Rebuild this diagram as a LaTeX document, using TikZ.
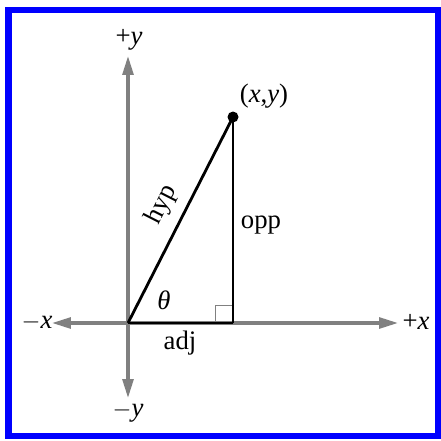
\documentclass[tikz,border=0pt]{standalone}
\usepackage{fontspec}
\setmainfont{Liberation Serif}
\usepackage{xcolor}
\usepackage{tikz}
\usetikzlibrary{arrows.meta}

\definecolor{framblue}{RGB}{0,0,255}
\definecolor{axisgray}{RGB}{128,128,128}

\begin{document}
\begin{tikzpicture}[
  x=0.025cm, y=-0.025cm,
  axis/.style={draw=axisgray, line width=2.2pt,
               -{Triangle[length=0.47cm, width=0.27cm]}},
  side/.style={draw=black, line width=2pt},
  lbl/.style={inner sep=0.5pt, font=\fontsize{19}{21}\selectfont}
]
\useasboundingbox (0,0) rectangle (441,441);
\draw[framblue, line width=4.6pt] (8.5,10) rectangle (438,436);

% points of the triangle
\coordinate (orig) at (128,323);
\coordinate (foot) at (233,323);
\coordinate (tip)  at (233,117);

% axis ends
\coordinate (xneg) at (52,323);
\coordinate (xpos) at (398,323);
\coordinate (ypos) at (128,56);
\coordinate (yneg) at (128,398);

\draw[axis] (orig) -- (xneg);
\draw[axis] (orig) -- (xpos);
\draw[axis] (orig) -- (ypos);
\draw[axis] (orig) -- (yneg);

% right angle mark
\draw[axisgray, line width=0.6pt] (215,323) |- (233,305);

\draw[side] (orig) -- (foot);
\draw[side] (orig) -- (tip);
\draw[draw=black, line width=1.4pt] (foot) -- (tip);
\fill (tip) circle (5.5);

\node[lbl] (lpy) at (129,40) {+\textit{y}};
\node[lbl] (lny) at (128,412) {$-$\textit{y}};
\node[lbl] (lnx) at (37,322) {$-$\textit{x}};
\node[lbl] (lpx) at (416,322) {+\textit{x}};
\node[lbl] (lpt) at (264,96) {(\textit{x},\textit{y})};
\node[lbl] (lhyp) at (162,205) [rotate=63] {hyp};
\node[lbl] (lopp) at (261,225) {opp};
\node[lbl] (ladj) at (180,343) {adj};
\node[lbl] (lth) at (164,300) {\textit{θ}};
\end{tikzpicture}
\end{document}
